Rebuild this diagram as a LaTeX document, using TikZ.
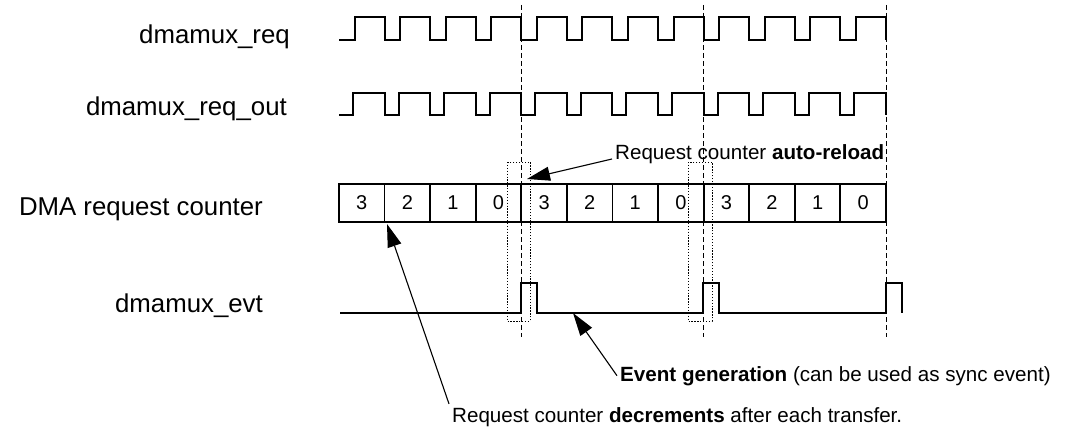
\documentclass[tikz,border=0pt]{standalone}
\usepackage{fontspec}
\setmainfont{Liberation Sans}
\usetikzlibrary{arrows.meta}

\begin{document}
\begin{tikzpicture}[x=1pt, y=-1pt,
  every node/.style={font=\fontsize{20.6}{24}\selectfont},
  signame/.style={font=\fontsize{25.8}{30}\selectfont, anchor=base east, inner sep=0pt},
  wave/.style={line width=2pt, line join=miter},
  cell/.style={draw, line width=1.8pt, minimum width=45.58pt, minimum height=38pt,
    inner sep=0pt, font=\fontsize{20}{24}\selectfont},
  marker/.style={dash pattern=on 5pt off 3pt, line width=0.9pt},
  window/.style={dash pattern=on 1.3pt off 1.6pt, line width=0.9pt},
  pointer/.style={line width=1.1pt, -{Triangle[length=23pt,width=14pt]}},
  note/.style={anchor=base west, inner sep=3pt}]
  \useasboundingbox (0,0) rectangle (1072,428);

  % Signal names
  \node[signame] (reqname) at (290,44) {dmamux\_req};
  \node[signame] (outname) at (287,116) {dmamux\_req\_out};
  \node[signame] (cntname) at (263,215) {DMA request counter};
  \node[signame] (evtname) at (263,312) {dmamux\_evt};

  % Request waveforms
  \draw[wave] (339,40) \foreach \i in {1,...,12} {
    -- ++(15.5,0) -- ++(0,-23) -- ++(30.08,0) -- ++(0,23) };
  \draw[wave] (339,115) \foreach \i in {1,...,12} {
    -- ++(14,0) -- ++(0,-22) -- ++(31.58,0) -- ++(0,22) };

  % Counter cells
  \foreach \v [count=\i] in {3,2,1,0,3,2,1,0,3,2,1,0}
    \node[cell] (c\i) at ({339+(\i-0.5)*45.58},203) {\v};

  % Event pulses
  \draw[wave] (340,313) \foreach \p in {521,703,886} {
    -- (\p,313) -- ++(0,-30) -- ++(16,0) -- ++(0,30) };

  % Reload markers
  \foreach \m in {521,703,886}
    \draw[marker] (\m,5) -- (\m,337);
  \draw[window] (507,162) rectangle (530,321);
  \draw[window] (688,162) rectangle (712,321);

  % Annotations
  \coordinate (reloadtip) at (527,179);
  \coordinate (dectip) at (387,224);
  \coordinate (evttip) at (573,313);

  \node[note] (reloadtxt) at (612,159) {Request counter \textbf{auto-reload}};
  \node[note] (evttxt) at (617,381) {\textbf{Event generation} (can be used as sync event)};
  \node[note] (dectxt) at (449,422) {Request counter \textbf{decrements} after each transfer.};

  \draw[pointer] (reloadtxt.base west) -- (reloadtip);
  \draw[pointer] (evttxt.west) -- (evttip);
  \draw[pointer] (dectxt.north west) -- (dectip);
\end{tikzpicture}
\end{document}
